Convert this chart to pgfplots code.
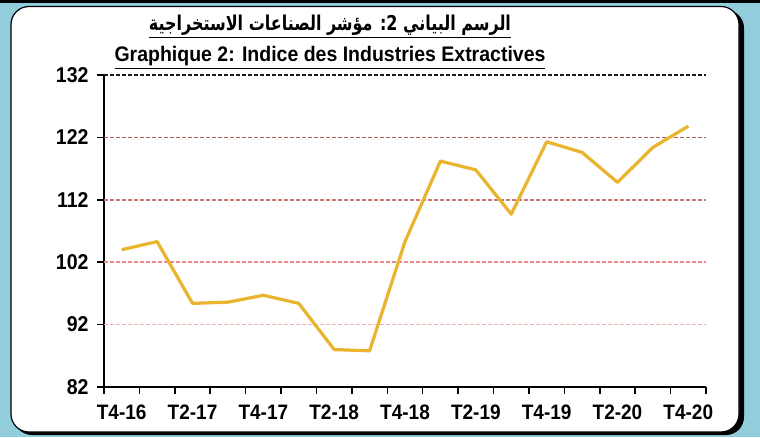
\documentclass[border=0pt]{standalone}
\usepackage{pgfplots}
\pgfplotsset{compat=1.18}
\usepackage{graphicx}
\usepackage{fontspec}
\setmainfont{Liberation Sans}
\newfontfamily\arabicfont[Script=Arabic]{DejaVu Sans}
\TeXXeTstate=1
\definecolor{bgblue}{HTML}{92CDDC}
\definecolor{gold}{HTML}{E9B52E}
\definecolor{gA}{HTML}{1A1A1A}
\definecolor{gB}{HTML}{B25E5E}
\definecolor{gC}{HTML}{C97575}
\definecolor{gD}{HTML}{F08888}
\definecolor{gE}{HTML}{F6AFAF}
\begin{document}
\begin{tikzpicture}[x=1pt,y=1pt]
\useasboundingbox (0,0) rectangle (760,437);
\fill[bgblue] (0,0) rectangle (760,437);
\fill[black] (0,434) rectangle (760,437);
\fill[black, rounded corners=18pt] (14,2) rectangle (744,427);
\filldraw[fill=white, draw=black, line width=1.2pt, rounded corners=18pt] (11,5) rectangle (739,430.5);
\node[anchor=base, inner sep=0pt] at (330,406) {\scalebox{0.94}[1.2]{\arabicfont\bfseries\fontsize{17}{20}\selectfont\underline{\beginR الرسم البياني 2: مؤشر الصناعات الاستخراجية\endR}}};
\node[anchor=base, inner sep=0pt] at (330,375) {\scalebox{1}[1.08]{\bfseries\fontsize{19.5}{22}\selectfont\underline{Graphique 2: Indice des Industries Extractives}}};
\begin{axis}[at={(104pt,50pt)}, anchor=south west, scale only axis,
  width=602pt, height=312pt,
  xmin=0.5, xmax=17.5, ymin=82, ymax=132,
  clip=false,
  axis x line*=bottom, axis y line*=left,
  axis line style={line width=2pt, -},
  tick align=outside,
  major tick length=7pt,
  every tick/.style={black, line width=1.5pt},
  ytick={82,92,...,132},
  xtick={0.5,1.5,...,17.5},
  xticklabels={},
  extra x ticks={1,3,...,17},
  extra x tick labels={T4-16,T2-17,T4-17,T2-18,T4-18,T2-19,T4-19,T2-20,T4-20},
  extra x tick style={tick style={draw=none}},
  /pgf/number format/assume math mode=true,
  yticklabel style={font=\bfseries\fontsize{19.5}{20}\selectfont, xshift=-5pt, yscale=1.1},
  xticklabel style={font=\bfseries\fontsize{19}{20}\selectfont, yshift=-7pt, yscale=1.1},
]
\draw[gA, line width=1.5pt, dash pattern=on 4pt off 2pt] (axis cs:0.5,132) -- (axis cs:17.5,132);
\draw[gB, line width=1.5pt, dash pattern=on 4pt off 2pt] (axis cs:0.5,122) -- (axis cs:17.5,122);
\draw[gC, line width=1.5pt, dash pattern=on 4pt off 2pt] (axis cs:0.5,112) -- (axis cs:17.5,112);
\draw[gD, line width=1.5pt, dash pattern=on 4pt off 2pt] (axis cs:0.5,102) -- (axis cs:17.5,102);
\draw[gE, line width=1.5pt, dash pattern=on 4pt off 2pt] (axis cs:0.5,92) -- (axis cs:17.5,92);
\addplot[gold, line width=3.2pt, line join=round, mark=none] coordinates {
(1,104.0) (2,105.3) (3,95.4) (4,95.6) (5,96.7) (6,95.4) (7,88.0) (8,87.8)
(9,105.3) (10,118.2) (11,116.8) (12,109.7) (13,121.3) (14,119.6) (15,114.8)
(16,120.4) (17,123.8)};
\end{axis}
\end{tikzpicture}
\end{document}
